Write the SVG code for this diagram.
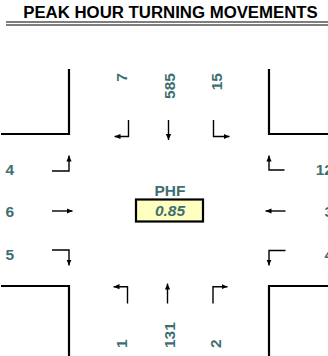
<svg xmlns="http://www.w3.org/2000/svg" width="328" height="356" viewBox="0 0 328 356">
<defs>
<style>
.title{font-family:"Liberation Sans",Arial,sans-serif;font-weight:bold;font-size:16.8px;fill:#000}
.num{font-family:"Liberation Sans",Arial,sans-serif;font-weight:bold;font-size:15.5px;fill:#3e6f70}
.road{fill:none;stroke:#000;stroke-width:2.2;stroke-linejoin:miter}
.arr{fill:none;stroke:#000;stroke-width:1.4;marker-end:url(#ah)}
</style>
<marker id="ah" viewBox="0 0 6 6" refX="6" refY="3" markerWidth="6" markerHeight="6" markerUnits="userSpaceOnUse" orient="auto">
<path d="M0,0.4 L6,3 L0,5.6 z" fill="#000"/>
</marker>
</defs>
<rect width="328" height="356" fill="#fff"/>
<g id="title">
<text class="title" x="170.5" y="18.3" text-anchor="middle">PEAK HOUR TURNING MOVEMENTS</text>
<line x1="6" y1="22" x2="328" y2="22" stroke="#000" stroke-width="1.2"/>
<line x1="6" y1="25" x2="328" y2="25" stroke="#000" stroke-width="1.2"/>
</g>
<g id="roads">
<polyline class="road" points="1,134 69,134 69,69"/>
<polyline class="road" points="269,69 269,134 328,134"/>
<polyline class="road" points="1,286 69,286 69,356"/>
<polyline class="road" points="328,286 269,286 269,356"/>
</g>
<g id="connectors">
<polyline class="arr" points="128.5,120 128.5,136.5 114.5,136.5"/>
<polyline class="arr" points="168.5,120 168.5,140"/>
<polyline class="arr" points="213.5,120 213.5,136.5 229.5,136.5"/>
<polyline class="arr" points="52,171 69,171 69,155.5"/>
<polyline class="arr" points="52,211 72.5,211"/>
<polyline class="arr" points="52,250 69,250 69,265.5"/>
<polyline class="arr" points="284.5,170 269,170 269,155.5"/>
<polyline class="arr" points="285.5,211 265.5,211"/>
<polyline class="arr" points="285.5,250.5 269,250.5 269,265.5"/>
<polyline class="arr" points="127.5,303.5 127.5,286.7 113.5,286.7"/>
<polyline class="arr" points="167.5,303.5 167.5,283.5"/>
<polyline class="arr" points="213,303.5 213,286.7 227.5,286.7"/>
</g>
<g id="north-labels">
<text class="num" transform="translate(126.5,73) rotate(-90)" text-anchor="end">7</text>
<text class="num" transform="translate(175,73) rotate(-90)" text-anchor="end">585</text>
<text class="num" transform="translate(221.5,73) rotate(-90)" text-anchor="end">15</text>
</g>
<g id="south-labels">
<text class="num" transform="translate(127,348) rotate(-90)" text-anchor="start">1</text>
<text class="num" transform="translate(174.5,348) rotate(-90)" text-anchor="start">131</text>
<text class="num" transform="translate(221,348) rotate(-90)" text-anchor="start">2</text>
</g>
<g id="west-labels">
<text class="num" x="5.5" y="175">4</text>
<text class="num" x="5.5" y="216.5">6</text>
<text class="num" x="5.5" y="260">5</text>
</g>
<g id="east-labels">
<text class="num" x="333" y="175" text-anchor="end">12</text>
<text class="num" x="333" y="216.5" text-anchor="end">3</text>
<text class="num" x="333" y="260" text-anchor="end">4</text>
</g>
<g id="phf">
<text class="num" x="170" y="196" text-anchor="middle">PHF</text>
<rect x="136" y="199.5" width="67" height="22" fill="#ffffc0" stroke="#000" stroke-width="2.2"/>
<text class="num" x="170" y="215.5" text-anchor="middle" font-style="italic">0.85</text>
</g>
</svg>
